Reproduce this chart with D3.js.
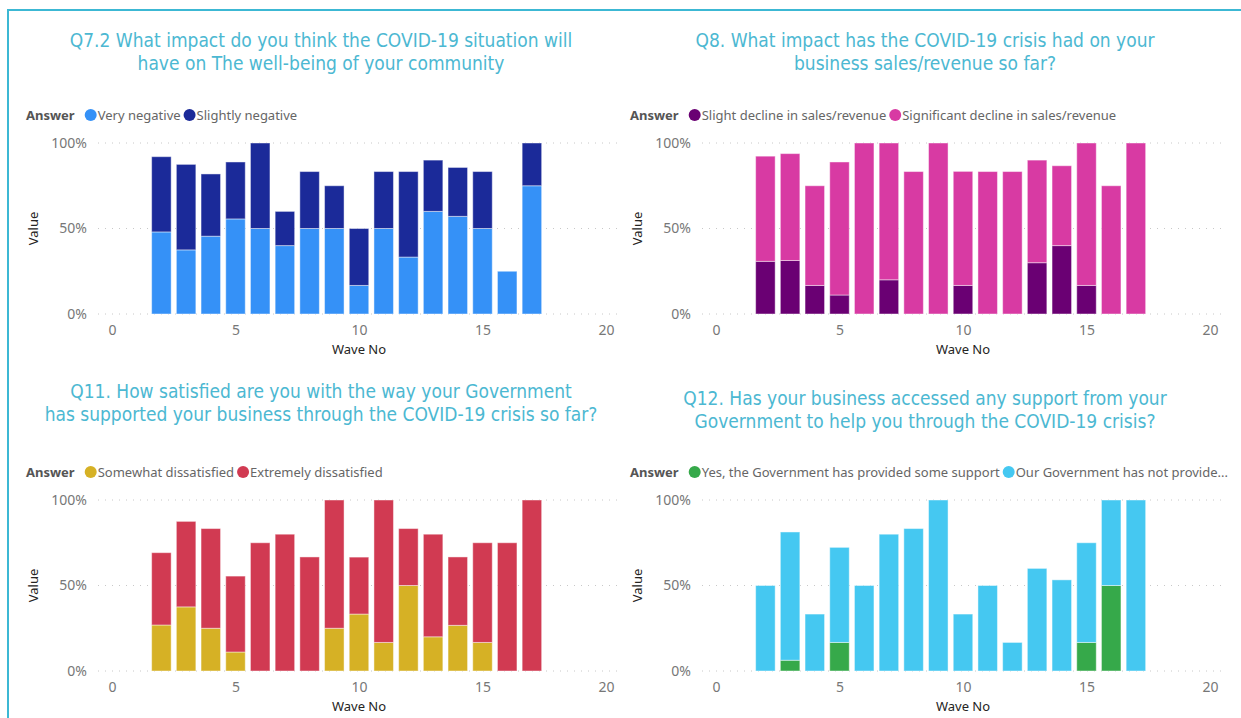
<!DOCTYPE html>
<html>
<head>
<meta charset="utf-8">
<script src="https://d3js.org/d3.v7.min.js"></script>
<style>
body { margin: 0; background: #fff; }
svg { display: block; }
.title { font-family: "DejaVu Sans Condensed", "DejaVu Sans", sans-serif; font-size: 19px; fill: #4cb8d2; }
.legend text { font-family: "Noto Sans", "Open Sans", sans-serif; font-size: 13px; fill: #666; }
.legend .head { font-weight: bold; fill: #555; }
.tick text { font-family: "Noto Sans", "Open Sans", sans-serif; font-size: 14px; fill: #777; }
.axis-title { font-family: "Noto Sans", "Open Sans", sans-serif; font-size: 13px; fill: #252423; }
.grid line { stroke: #c8c8c8; stroke-dasharray: 1 6; }
</style>
</head>
<body>
<svg width="1241" height="718"></svg>
<script>
const waves = d3.range(2, 18);
const xTicks = [0, 5, 10, 15, 20];
const yTicks = [0, 0.5, 1];

// Q7.2
const q72Title = ["Q7.2 What impact do you think the COVID-19 situation will", "have on The well-being of your community"];
const q72Labels = ["Very negative", "Slightly negative"];
const q72Colors = ["#3591f7", "#1b2a99"];
const veryNegative = [48, 37.5, 45.5, 55.6, 50, 40, 50, 50, 16.7, 50, 33.3, 60, 57.1, 50, 25, 75];
const slightlyNegative = [44, 50, 36.4, 33.3, 50, 20, 33.3, 25, 33.3, 33.3, 50, 30, 28.6, 33.3, 0, 25];

// Q8
const q8Title = ["Q8. What impact has the COVID-19 crisis had on your", "business sales/revenue so far?"];
const q8Labels = ["Slight decline in sales/revenue", "Significant decline in sales/revenue"];
const q8Colors = ["#6a0073", "#d83aa3"];
const slightDecline = [30.8, 31.3, 16.7, 11.1, 0, 20, 0, 0, 16.7, 0, 0, 30, 40, 16.7, 0, 0];
const significantDecline = [61.5, 62.5, 58.3, 77.8, 100, 80, 83.3, 100, 66.7, 83.3, 83.3, 60, 46.7, 83.3, 75, 100];

// Q11
const q11Title = ["Q11. How satisfied are you with the way your Government", "has supported your business through the COVID-19 crisis so far?"];
const q11Labels = ["Somewhat dissatisfied", "Extremely dissatisfied"];
const q11Colors = ["#d6b125", "#d13a52"];
const somewhatDissatisfied = [26.9, 37.5, 25, 11.1, 0, 0, 0, 25, 33.3, 16.7, 50, 20, 26.7, 16.7, 0, 0];
const extremelyDissatisfied = [42.3, 50, 58.3, 44.4, 75, 80, 66.7, 75, 33.3, 83.3, 33.3, 60, 40, 58.3, 75, 100];

// Q12
const q12Title = ["Q12. Has your business accessed any support from your", "Government to help you through the COVID-19 crisis?"];
const q12Labels = ["Yes, the Government has provided some support", "Our Government has not provide..."];
const q12Colors = ["#36a94a", "#45c8f1"];
const someSupport = [0, 6.3, 0, 16.7, 0, 0, 0, 0, 0, 0, 0, 0, 0, 16.7, 50, 0];
const noSupport = [50, 75, 33.3, 55.6, 50, 80, 83.3, 100, 33.3, 50, 16.7, 60, 53.3, 58.3, 50, 100];

const panels = [
  { title: q72Title, labels: q72Labels, colors: q72Colors, series: [veryNegative, slightlyNegative], dx: 0, dy: 0, ty: 0 },
  { title: q8Title, labels: q8Labels, colors: q8Colors, series: [slightDecline, significantDecline], dx: 604, dy: 0, ty: 0 },
  { title: q11Title, labels: q11Labels, colors: q11Colors, series: [somewhatDissatisfied, extremelyDissatisfied], dx: 0, dy: 357, ty: -6 },
  { title: q12Title, labels: q12Labels, colors: q12Colors, series: [someSupport, noSupport], dx: 604, dy: 357, ty: 1 }
];

const svg = d3.select('svg');

// frame
svg.append('path')
  .attr('d', 'M8,718V10H1241')
  .attr('fill', 'none')
  .attr('stroke', '#3cb8d4')
  .attr('stroke-width', 2);

const x = d3.scaleLinear().domain([0, 20]).range([112, 606]);
const y = d3.scaleLinear().domain([0, 1]).range([314, 143]);
const barW = (x(1) - x(0)) * 0.79;

const drawPanel = (p) => {
  const g = svg.append('g').attr('transform', `translate(${p.dx},${p.dy})`);

  g.append('text')
    .attr('class', 'title')
    .attr('text-anchor', 'middle')
    .selectAll('tspan')
    .data(p.title)
    .join('tspan')
    .attr('x', 321)
    .attr('y', (d, i) => 47 + p.ty + i * 23)
    .text(d => d);

  // legend
  const lg = g.append('g').attr('class', 'legend').attr('transform', 'translate(26,115)');
  const head = lg.append('text').attr('class', 'head').attr('dy', '0.35em').text('Answer');
  let cx = head.node().getComputedTextLength() + 10;
  p.labels.forEach((label, i) => {
    lg.append('circle').attr('cx', cx + 6).attr('cy', 0).attr('r', 6).attr('fill', p.colors[i]);
    const t = lg.append('text').attr('x', cx + 13).attr('dy', '0.35em').text(label);
    cx += 13 + t.node().getComputedTextLength() + 3;
  });

  // grid
  g.append('g')
    .attr('class', 'grid')
    .selectAll('line')
    .data(yTicks)
    .join('line')
    .attr('x1', 98)
    .attr('x2', 618)
    .attr('y1', d => y(d))
    .attr('y2', d => y(d));

  // axes
  g.append('g')
    .attr('transform', 'translate(90,0)')
    .call(d3.axisLeft(y).tickValues(yTicks).tickFormat(d3.format('.0%')).tickSize(0))
    .call(a => a.select('.domain').remove());

  g.append('g')
    .attr('transform', 'translate(0,322)')
    .call(d3.axisBottom(x).tickValues(xTicks).tickSize(0))
    .call(a => a.select('.domain').remove());

  g.append('text')
    .attr('class', 'axis-title')
    .attr('text-anchor', 'middle')
    .attr('x', (x(0) + x(20)) / 2)
    .attr('y', 354)
    .text('Wave No');

  g.append('text')
    .attr('class', 'axis-title')
    .attr('text-anchor', 'middle')
    .attr('transform', `translate(38,${(y(0) + y(1)) / 2}) rotate(-90)`)
    .text('Value');

  // bars
  const rows = waves.map((w, i) => ({ wave: w, a: p.series[0][i] / 100, b: p.series[1][i] / 100 }));
  const stacked = d3.stack().keys(['a', 'b'])(rows);

  g.append('g')
    .selectAll('g')
    .data(stacked)
    .join('g')
    .attr('fill', (d, i) => p.colors[i])
    .selectAll('rect')
    .data(d => d.filter(s => s[1] - s[0] > 0))
    .join('rect')
    .attr('x', d => x(d.data.wave) - barW / 2)
    .attr('y', d => y(d[1]))
    .attr('width', barW)
    .attr('height', d => y(d[0]) - y(d[1]))
    .attr('stroke', '#fff')
    .attr('stroke-opacity', 0.45)
    .attr('stroke-width', 1);
};

panels.forEach(drawPanel);
</script>
</body>
</html>
